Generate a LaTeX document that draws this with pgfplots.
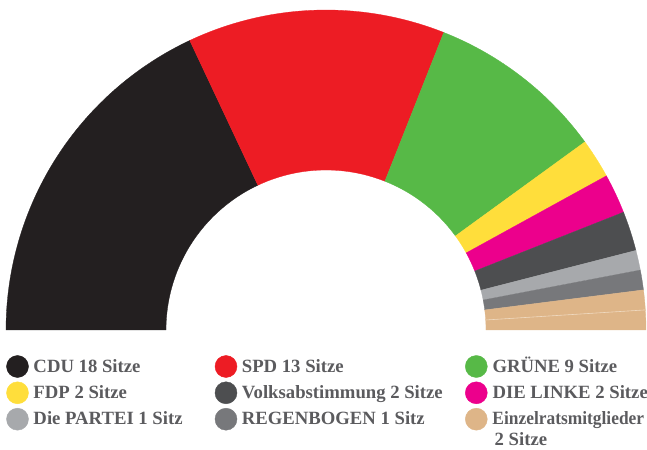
\documentclass[border=0pt]{standalone}
\usepackage{pgfplots}
\pgfplotsset{compat=1.18}
\usepackage{fontspec}
\setmainfont{Liberation Serif}
\definecolor{cdu}{HTML}{231F20}
\definecolor{spd}{HTML}{ED1C24}
\definecolor{gruene}{HTML}{57B947}
\definecolor{fdp}{HTML}{FFDE3B}
\definecolor{linke}{HTML}{EC008C}
\definecolor{volks}{HTML}{4D4E50}
\definecolor{partei}{HTML}{A7A9AC}
\definecolor{regen}{HTML}{77787B}
\definecolor{einzel}{HTML}{DEB588}
\definecolor{einzelline}{HTML}{EFD9BF}
\definecolor{txt}{HTML}{5B5B5E}
\newcommand\lgfont{\bfseries\fontsize{18.7bp}{21bp}\selectfont}
% wedge from cumulative seat #1 to #2 (of 50), colour #3
\newcommand\seatwedge[3]{%
  \addplot[fill=#3, draw=#3, line width=0.3pt, samples at={0,...,161}, variable=\t]
  ({326+((\t<80.5) ? 320 : 160)*cos(((\t<80.5) ? ((180-3.6*#1)+(3.6*#1-3.6*#2)*\t/80) : ((180-3.6*#2)+(3.6*#2-3.6*#1)*(\t-81)/80)))},
   {120+((\t<80.5) ? 320 : 160)*sin(((\t<80.5) ? ((180-3.6*#1)+(3.6*#1-3.6*#2)*\t/80) : ((180-3.6*#2)+(3.6*#2-3.6*#1)*(\t-81)/80)))}) -- cycle;
}
\newcommand\lgtext[3]{\node[anchor=base west, inner sep=0pt, text=txt, font=\lgfont] at (axis cs:#1,#2) {#3};}
\begin{document}
\begin{tikzpicture}
\useasboundingbox (0,0) rectangle (647bp,450bp);
\begin{axis}[x=1bp, y=1bp, xmin=0, xmax=647, ymin=0, ymax=450,
  hide axis, clip=false]
% seats: CDU 18, SPD 13, GRUENE 9, FDP 2, LINKE 2, Volksabstimmung 2, PARTEI 1, REGENBOGEN 1, Einzel 2 (total 50)
\seatwedge{0}{18}{cdu}
\seatwedge{18}{31}{spd}
\seatwedge{31}{40}{gruene}
\seatwedge{40}{42}{fdp}
\seatwedge{42}{44}{linke}
\seatwedge{44}{46}{volks}
\seatwedge{46}{47}{partei}
\seatwedge{47}{48}{regen}
\seatwedge{48}{49}{einzel}
\seatwedge{49}{50}{einzel}
\addplot[einzelline, line width=0.6pt] coordinates {(485.7,130.0) (645.4,140.1)};
% legend markers
\addplot[only marks, mark=*, mark size=11bp, color=cdu] coordinates {(17.5,83.5)};
\addplot[only marks, mark=*, mark size=11bp, color=fdp] coordinates {(17.5,57.2)};
\addplot[only marks, mark=*, mark size=11bp, color=partei] coordinates {(17.5,30.8)};
\addplot[only marks, mark=*, mark size=11bp, color=spd] coordinates {(226,83.5)};
\addplot[only marks, mark=*, mark size=11bp, color=volks] coordinates {(226,57.2)};
\addplot[only marks, mark=*, mark size=11bp, color=regen] coordinates {(226,30.8)};
\addplot[only marks, mark=*, mark size=11bp, color=gruene] coordinates {(476.3,83.5)};
\addplot[only marks, mark=*, mark size=11bp, color=linke] coordinates {(476.3,57.2)};
\addplot[only marks, mark=*, mark size=11bp, color=einzel] coordinates {(476.3,30.8)};
\lgtext{33.3}{77.3}{CDU 18 Sitze}
\lgtext{33.3}{51.7}{FDP 2 Sitze}
\lgtext{33.3}{26.0}{Die PARTEI 1 Sitz}
\lgtext{241.7}{77.3}{SPD 13 Sitze}
\lgtext{241.7}{51.7}{Volksabstimmung 2 Sitze}
\lgtext{241.7}{26.0}{REGENBOGEN 1 Sitz}
\lgtext{492.3}{77.3}{GRÜNE 9 Sitze}
\lgtext{492.3}{51.7}{DIE LINKE 2 Sitze}
\lgtext{492.3}{26.0}{\scalebox{0.93}[1]{Einzelratsmitglieder}}
\lgtext{494.5}{5.0}{2 Sitze}
\end{axis}
\end{tikzpicture}
\end{document}
